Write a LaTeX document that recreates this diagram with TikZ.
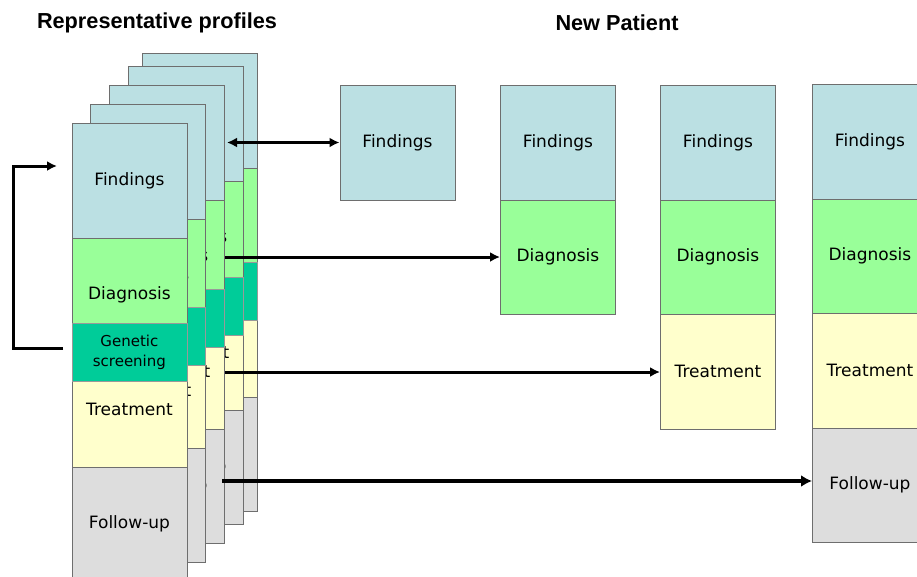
\documentclass[tikz,border=0pt]{standalone}
\usepackage{fontspec}
\usetikzlibrary{arrows.meta}
\newfontfamily\bodyfont{DejaVu Sans}
\newfontfamily\titlefont{Liberation Sans}
\definecolor{cfind}{HTML}{BBE0E3}
\definecolor{cdiag}{HTML}{99FF99}
\definecolor{ctreat}{HTML}{FFFFCC}
\definecolor{cfol}{HTML}{DDDDDD}
\definecolor{cgen}{HTML}{00CC99}
\definecolor{cline}{HTML}{6E6E6E}
\tikzset{
  sec/.style={draw=cline, line width=0.9pt, minimum width=115pt, minimum height=114.5pt,
    inner sep=0pt, anchor=north west, font=\bodyfont\fontsize{17}{20}\selectfont},
  findsec/.style={sec, fill=cfind},
  diagsec/.style={sec, fill=cdiag},
  treatsec/.style={sec, fill=ctreat},
  folsec/.style={sec, fill=cfol},
  gensec/.style={draw=black!40, line width=0.8pt, fill=cgen, minimum width=115pt, minimum height=58pt,
    inner sep=0pt, anchor=north west, align=center, font=\bodyfont\fontsize{15}{20.5}\selectfont},
  titletext/.style={font=\titlefont\bfseries\fontsize{21.7}{26}\selectfont, inner sep=0pt},
  arr/.style={line width=3pt, -{Latex[length=10pt,width=10pt]}},
  bigarr/.style={line width=4.5pt, -{Latex[length=11pt,width=12pt]}},
  darr/.style={line width=3pt, {Latex[length=10pt,width=10pt]}-{Latex[length=10pt,width=10pt]}},
}
\newcommand{\profcard}[5]{%
  \node[findsec] (#1f) at (#2,#3) {Findings};
  \node[diagsec] (#1d) at (#2,#3+114.5) {Diagnosis};
  \node[treatsec] (#1t) at (#2,#3+229) {Treatment};
  \node[folsec] (#1u) at (#2,#3+343.5) {Follow-up};
  \node[gensec] (#1g) at (#2,#4) {#5};
}
\begin{document}
\begin{tikzpicture}[x=1pt,y=-1pt]
\useasboundingbox (0,0) rectangle (917,576);
\clip (0,0) rectangle (917,576);
% titles
\node[titletext] (t1) at (157,23) {Representative profiles};
\node[titletext] (t2) at (617,23) {New Patient};
% stacked profile cards, back to front
\profcard{pe}{142}{53}{262}{}
\profcard{pd}{128}{66}{277}{}
\profcard{pc}{109}{85}{288.5}{}
\profcard{pb}{90}{104}{307}{}
\profcard{pa}{71.5}{123}{323}{Genetic\\screening}
% new patient columns
\node[findsec] (n1f) at (339.5,85) {Findings};
\node[findsec] (n2f) at (500,85) {Findings};
\node[diagsec] (n2d) at (500,199.5) {Diagnosis};
\node[findsec] (n3f) at (660,85) {Findings};
\node[diagsec] (n3d) at (660,199.5) {Diagnosis};
\node[treatsec] (n3t) at (660,314) {Treatment};
\node[findsec] (n4f) at (812,84) {Findings};
\node[diagsec] (n4d) at (812,198.5) {Diagnosis};
\node[treatsec] (n4t) at (812,313) {Treatment};
\node[folsec] (n4u) at (812,427.5) {Follow-up};
% connectors
\coordinate (s1) at (227,142.5);
\coordinate (s2) at (225,257);
\coordinate (s3) at (225,372);
\coordinate (s4) at (222,481);
\draw[darr] (s1) -- (s1 -| n1f.west);
\draw[arr] (s2) -- (s2 -| n2d.west);
\draw[arr] (s3) -- (s3 -| n3t.west);
\draw[bigarr] (s4) -- (s4 -| n4u.west);
% feedback loop
\coordinate (fb0) at (63,348);
\coordinate (fb1) at (57,166);
\draw[arr] (fb0) -- (13,348) -- (13,166) -- (fb1);
\end{tikzpicture}
\end{document}
